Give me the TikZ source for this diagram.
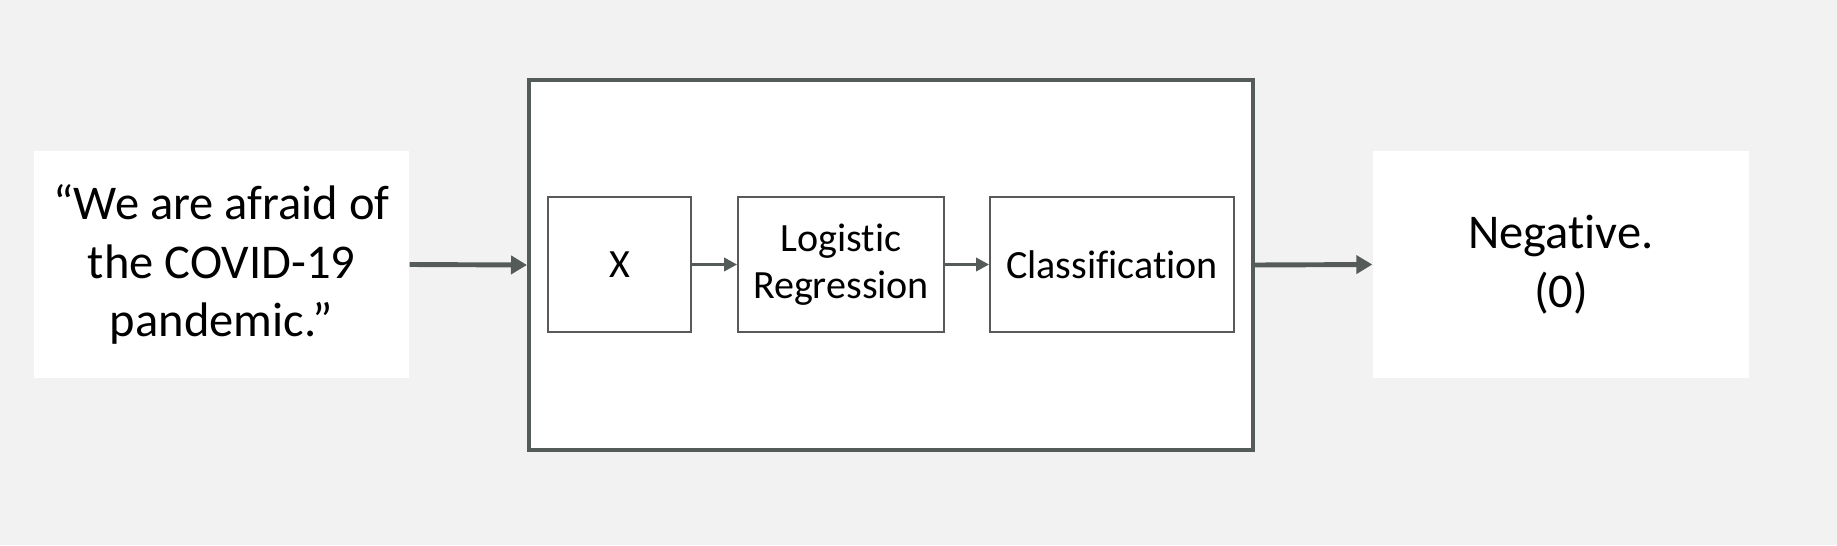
\documentclass[tikz,border=0pt]{standalone}
\usepackage{fontspec}
\setmainfont{Carlito}[Ligatures=NoCommon]
\definecolor{PageGray}{RGB}{242, 242, 242}
\definecolor{FrameGray}{RGB}{85, 91, 88}
\definecolor{BoxGray}{RGB}{89, 89, 89}
\usetikzlibrary{arrows.meta, positioning}

\begin{document}
\begin{tikzpicture}[
    textcard/.style={fill=white, minimum width=3.75cm, minimum height=2.27cm,
        align=center, font=\fontsize{13.8}{16.6}\selectfont},
    stagebox/.style={draw=BoxGray, line width=0.5pt, fill=white, minimum height=1.35cm,
        align=center, font=\fontsize{11.4}{13.4}\selectfont},
    bigflow/.style={FrameGray, line width=1.4pt, -{Triangle[length=1.6mm, width=1.8mm]}},
    smallflow/.style={FrameGray, line width=0.95pt, -{Triangle[length=1.3mm, width=1.3mm]}}
]
    % page
    \fill[PageGray] (0,0) rectangle (18.37,5.45);
    \useasboundingbox (0,0) rectangle (18.37,5.45);

    % input and output
    \node[textcard] (input) at (2.215,2.805) {``We are afraid of\\the COVID-19\\pandemic.''};
    \node[textcard, minimum width=3.76cm] (output) at (15.61,2.805) {Negative.\\(0)};

    % model frame
    \node[draw=FrameGray, line width=1.15pt, fill=white, minimum width=7.24cm,
        minimum height=3.70cm] (model) at (8.91,2.80) {};

    % stages
    \node[stagebox, minimum width=1.43cm] (feat) at (6.195,2.805) {X};
    \node[stagebox, minimum width=2.06cm] (logreg) at (8.41,2.805) {Logistic\\Regression};
    \node[stagebox, minimum width=2.44cm] (classif) at (11.12,2.805) {Classification};

    % flow
    \draw[bigflow] (input.east) -- (model.west);
    \draw[bigflow] (model.east) -- (output.west);
    \draw[smallflow] (feat.east) -- (logreg.west);
    \draw[smallflow] (logreg.east) -- (classif.west);
\end{tikzpicture}
\end{document}
